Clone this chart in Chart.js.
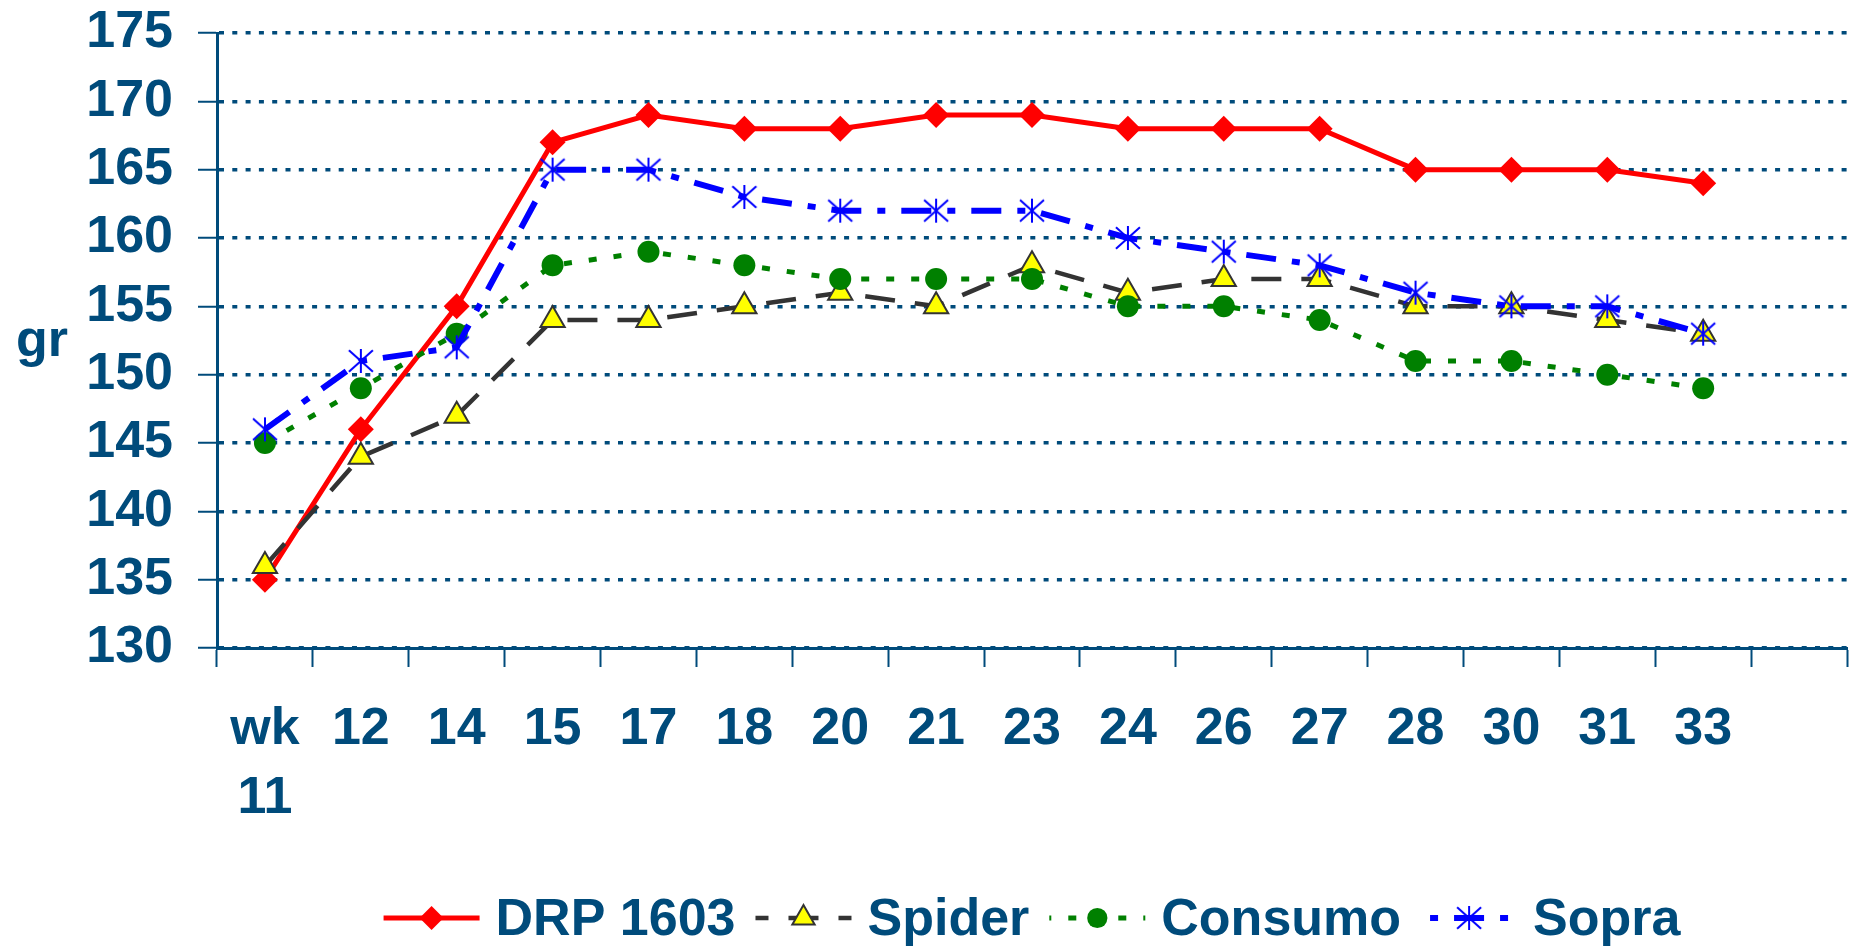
<!DOCTYPE html>
<html>
<head>
<meta charset="utf-8">
<title>gr per week</title>
<script src="https://cdn.jsdelivr.net/npm/chart.js"></script>
<style>
  html, body { margin: 0; padding: 0; background: #fff; }
  #wrap { width: 1863px; height: 946px; position: relative; }
</style>
</head>
<body>
<div id="wrap"><canvas id="chart"></canvas></div>
<script>
// week labels, the last slot is left empty like in the original
const weeks = [['wk', '11'], '12', '14', '15', '17', '18', '20', '21', '23', '24', '26', '27', '28', '30', '31', '33', ''];
const seriesNames = ['DRP 1603', 'Spider', 'Consumo', 'Sopra'];
const drp1603 = [135, 146, 155, 167, 169, 168, 168, 169, 169, 168, 168, 168, 165, 165, 165, 164];
const spider = [136, 144, 147, 154, 154, 155, 156, 155, 158, 156, 157, 157, 155, 155, 154, 153];
const consumo = [145, 149, 153, 158, 159, 158, 157, 157, 157, 155, 155, 154, 151, 151, 150, 149];
const sopra = [146, 151, 152, 165, 165, 163, 162, 162, 162, 160, 159, 158, 156, 155, 155, 153];
const yMin = 130;
const yMax = 175;
const yStep = 5;
const yTitle = 'gr';

const textColor = '#004b7b';
const fontFamily = '"Liberation Sans", Arial, sans-serif';
const fontSize = 52;

// asterisk marker: vertical stroke plus an X
function makeAsterisk(r, color, lw) {
    const c = document.createElement('canvas');
    const s = 2 * r + 4;
    c.width = s;
    c.height = s;
    const g = c.getContext('2d');
    const m = s / 2;
    g.strokeStyle = color;
    g.lineWidth = lw;
    g.beginPath();
    g.moveTo(m, m - r); g.lineTo(m, m + r);
    g.moveTo(m - r, m - r * 0.9); g.lineTo(m + r, m + r * 0.9);
    g.moveTo(m - r, m + r * 0.9); g.lineTo(m + r, m - r * 0.9);
    g.stroke();
    return c;
}

function drawMarker(ctx, ds, x, y) {
    const st = ds.pointStyle;
    if (st instanceof HTMLCanvasElement) {
        ctx.drawImage(st, x - st.width / 2, y - st.height / 2);
        return;
    }
    const r = ds.pointRadius * 0.92;
    ctx.beginPath();
    if (st === 'rectRot') {
        ctx.moveTo(x, y - r); ctx.lineTo(x + r, y); ctx.lineTo(x, y + r); ctx.lineTo(x - r, y);
        ctx.closePath();
    } else if (st === 'triangle') {
        const a = Math.PI * 2 / 3;
        ctx.moveTo(x, y - r);
        ctx.lineTo(x + Math.sin(a) * r, y - Math.cos(a) * r);
        ctx.lineTo(x + Math.sin(2 * a) * r, y - Math.cos(2 * a) * r);
        ctx.closePath();
    } else {
        ctx.arc(x, y, r, 0, Math.PI * 2);
    }
    ctx.setLineDash([]);
    ctx.fillStyle = ds.pointBackgroundColor;
    ctx.fill();
    if (ds.pointBorderWidth) {
        ctx.lineWidth = ds.pointBorderWidth;
        ctx.strokeStyle = ds.pointBorderColor;
        ctx.stroke();
    }
}

// y title written horizontally and a line+marker legend under the axis
const extras = {
    id: 'extras',
    afterDraw(chart) {
        const ctx = chart.ctx;
        const area = chart.chartArea;
        ctx.save();
        ctx.font = `bold ${fontSize}px ${fontFamily}`;
        ctx.fillStyle = textColor;
        ctx.textAlign = 'center';
        ctx.textBaseline = 'alphabetic';
        ctx.fillText(yTitle, chart.scales.y.left + 42, (area.top + area.bottom) / 2 + 15);

        const sample = 96, gapText = 16, gapItem = 20;
        const items = chart.data.datasets.map(ds => ({ ds, w: ctx.measureText(ds.label).width }));
        const total = items.reduce((s, it) => s + sample + gapText + it.w, 0) + gapItem * (items.length - 1);
        let x = (area.left + area.right) / 2 - total / 2;
        const lineY = 918;
        items.forEach(it => {
            const ds = it.ds;
            const dash = ds.borderDash || [];
            ctx.save();
            ctx.strokeStyle = ds.borderColor;
            ctx.lineWidth = ds.borderWidth;
            ctx.setLineDash(dash);
            if (dash.length) {
                // centre the first dash under the marker
                const period = dash.reduce((a, b) => a + b, 0);
                ctx.lineDashOffset = (((dash[0] - sample) / 2) % period + period) % period;
            }
            ctx.beginPath();
            ctx.moveTo(x, lineY);
            ctx.lineTo(x + sample, lineY);
            ctx.stroke();
            drawMarker(ctx, ds, x + sample / 2, lineY);
            ctx.restore();
            ctx.fillStyle = textColor;
            ctx.textAlign = 'left';
            ctx.fillText(ds.label, x + sample + gapText, 935);
            x += sample + gapText + it.w + gapItem;
        });
        ctx.restore();
    }
};

const datasets = [
    {
        label: seriesNames[0], data: drp1603, order: 4,
        borderColor: '#ff0000', borderWidth: 5, borderDash: [],
        pointStyle: 'rectRot', pointRadius: 13, pointBackgroundColor: '#ff0000',
        pointBorderColor: '#ff0000', pointBorderWidth: 0
    },
    {
        label: seriesNames[1], data: spider, order: 3,
        borderColor: '#333333', borderWidth: 4.5, borderDash: [30, 20],
        pointStyle: 'triangle', pointRadius: 14, pointBackgroundColor: '#ffff00',
        pointBorderColor: '#333333', pointBorderWidth: 2
    },
    {
        label: seriesNames[2], data: consumo, order: 2,
        borderColor: '#008000', borderWidth: 5, borderDash: [8, 17],
        pointStyle: 'circle', pointRadius: 11, pointBackgroundColor: '#008000',
        pointBorderColor: '#008000', pointBorderWidth: 0
    },
    {
        label: seriesNames[3], data: sopra, order: 1,
        borderColor: '#0000ff', borderWidth: 6, borderDash: [30, 16, 8, 16],
        pointStyle: makeAsterisk(12, '#0000ff', 2), pointRadius: 12, pointBackgroundColor: '#0000ff',
        pointBorderColor: '#0000ff', pointBorderWidth: 0
    }
];
datasets.forEach(ds => { ds.fill = false; ds.tension = 0; ds.pointHoverRadius = ds.pointRadius; });

new Chart(document.getElementById('chart'), {
    type: 'line',
    data: { labels: weeks, datasets: datasets },
    plugins: [extras],
    options: {
        responsive: true,
        maintainAspectRatio: false,
        animation: false,
        layout: { padding: { top: 33, right: 4, bottom: 0, left: 0 } },
        plugins: { legend: { display: false }, tooltip: { enabled: false } },
        scales: {
            x: {
                offset: true,
                afterFit: s => { s.height = 298; },
                grid: {
                    offset: true, drawOnChartArea: false, drawTicks: true,
                    tickLength: 19, tickColor: textColor, tickWidth: 2, color: textColor
                },
                border: { color: textColor, width: 3 },
                ticks: {
                    color: textColor, padding: 28, maxRotation: 0, autoSkip: false,
                    font: { family: fontFamily, size: fontSize, weight: 'bold', lineHeight: 1.33 }
                }
            },
            y: {
                min: yMin, max: yMax,
                afterFit: s => { s.width = 217; },
                grid: {
                    color: textColor, lineWidth: 3.5,
                    tickLength: 19, tickColor: textColor, tickWidth: 2, tickBorderDash: []
                },
                border: { color: textColor, width: 3, dash: [5, 8.3] },
                ticks: {
                    stepSize: yStep, color: textColor, padding: 25,
                    // small line height so the top label does not push the plot down
                    font: { family: fontFamily, size: fontSize, weight: 'bold', lineHeight: 0.3 }
                }
            }
        }
    }
});
</script>
</body>
</html>
